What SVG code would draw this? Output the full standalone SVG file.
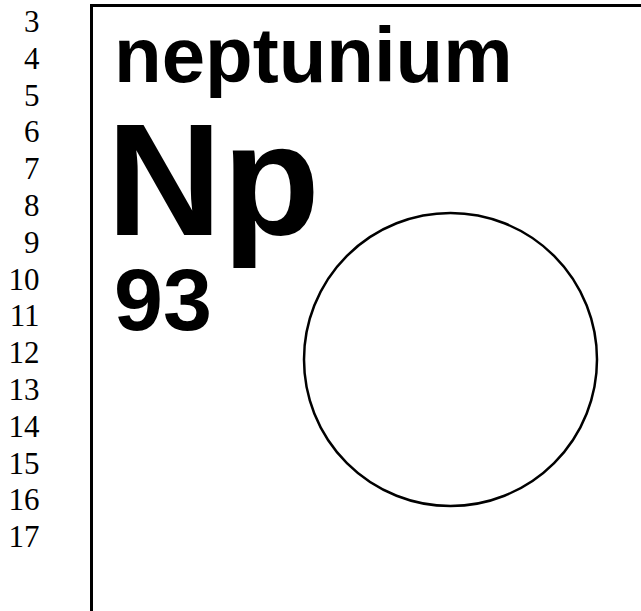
<svg xmlns="http://www.w3.org/2000/svg" width="641" height="611" viewBox="0 0 641 611">
<style>
.ln{font-family:"Liberation Serif","Times New Roman",serif;font-size:31px;fill:#000;text-anchor:end}
.b{font-family:"Liberation Sans",Arial,Helvetica,sans-serif;font-weight:bold;fill:#000}
</style>
<rect width="641" height="611" fill="#fff"/>
<g id="line-numbers">
<text class="ln" x="39.5" y="32">3</text>
<text class="ln" x="39.5" y="68.8">4</text>
<text class="ln" x="39.5" y="105.6">5</text>
<text class="ln" x="39.5" y="142.4">6</text>
<text class="ln" x="39.5" y="179.2">7</text>
<text class="ln" x="39.5" y="216">8</text>
<text class="ln" x="39.5" y="252.8">9</text>
<text class="ln" x="39.5" y="289.6">10</text>
<text class="ln" x="39.5" y="326.4">11</text>
<text class="ln" x="39.5" y="363.2">12</text>
<text class="ln" x="39.5" y="400">13</text>
<text class="ln" x="39.5" y="436.8">14</text>
<text class="ln" x="39.5" y="473.6">15</text>
<text class="ln" x="39.5" y="510.4">16</text>
<text class="ln" x="39.5" y="547.2">17</text>
</g>
<g id="tile">
<rect x="91.5" y="5.5" width="640" height="700" fill="none" stroke="#000" stroke-width="3"/>
<text class="b" x="114" y="81.5" font-size="78">neptunium</text>
<text class="b" x="106.6" y="235" font-size="160">Np</text>
<text class="b" x="114" y="330" font-size="88">93</text>
<circle cx="450.5" cy="359.5" r="146.5" fill="none" stroke="#000" stroke-width="2.5"/>
</g>
</svg>
